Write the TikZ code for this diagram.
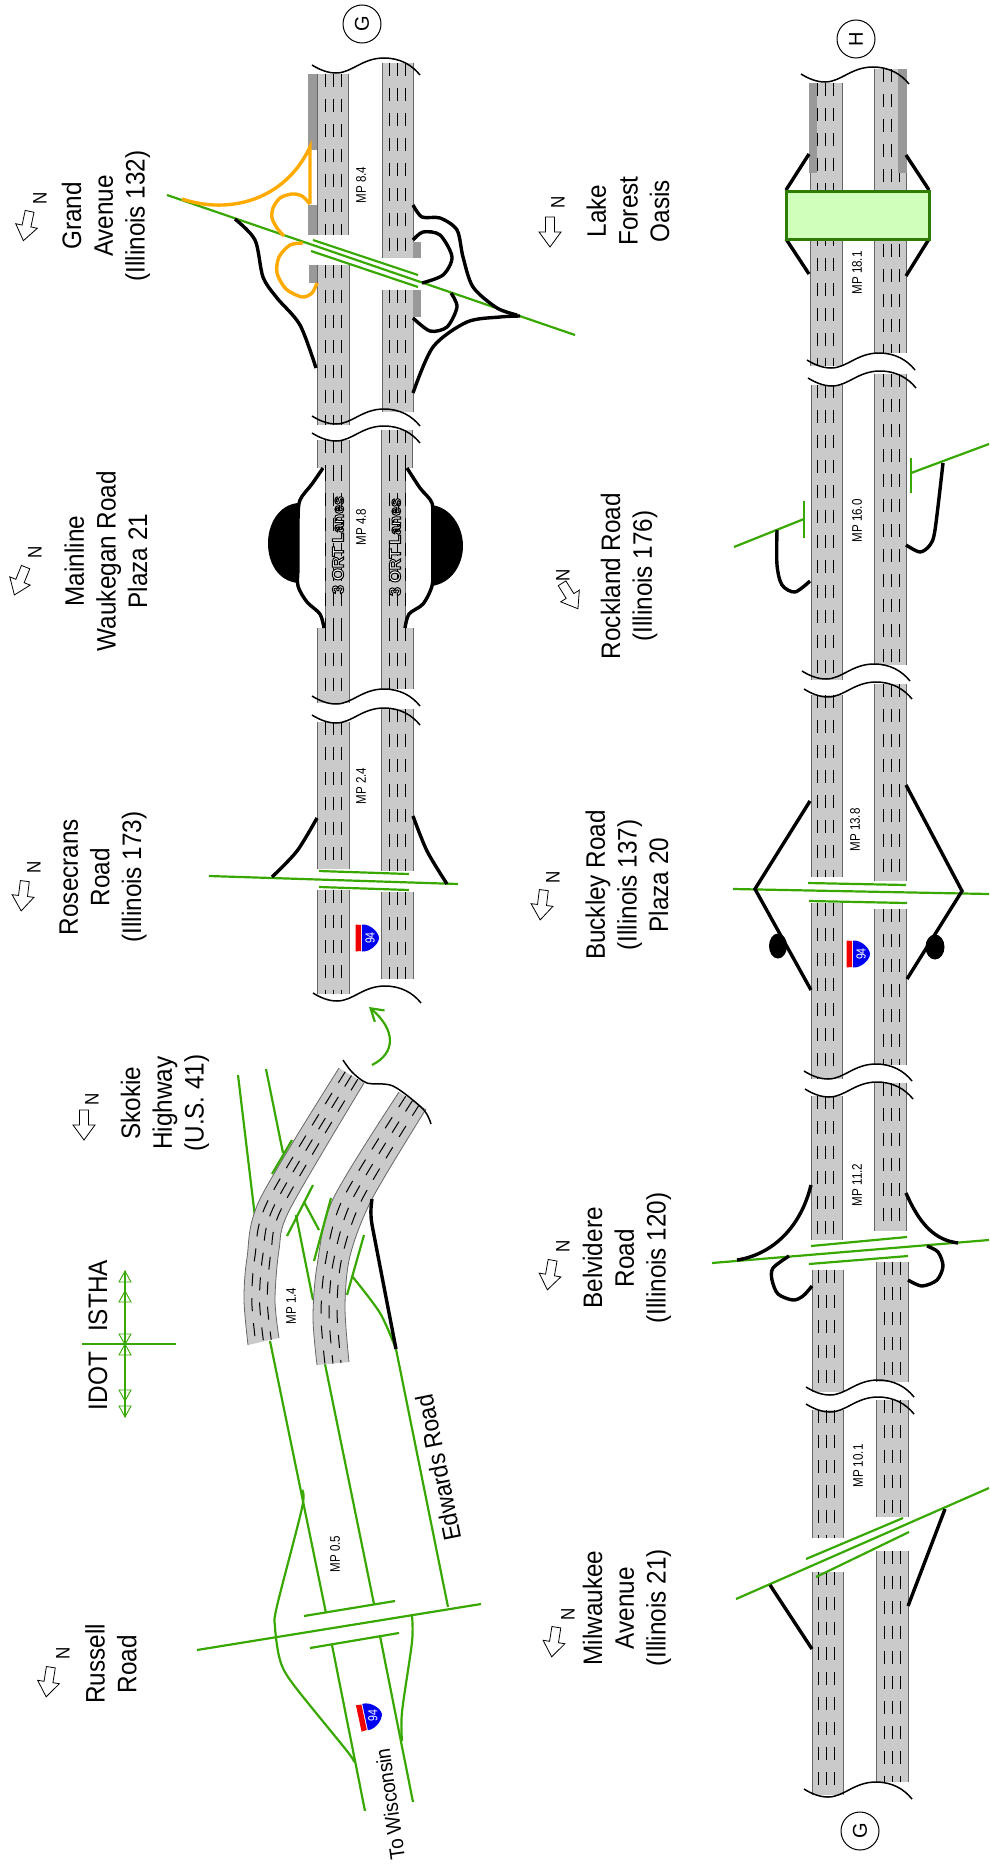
\documentclass[tikz,border=0pt]{standalone}
\usepackage{fontspec}
\setmainfont{Liberation Sans}
\usepackage{xcolor}
\usepackage{tikz}
\usetikzlibrary{arrows.meta,calc}
\definecolor{RoadGrey}{HTML}{CACACA}
\definecolor{ShoulderGrey}{HTML}{999999}
\definecolor{EdgeGrey}{HTML}{666666}
\definecolor{RoadGreen}{HTML}{38A800}
\definecolor{RampOrange}{HTML}{FFAA00}
\definecolor{OasisFill}{HTML}{D0FFBC}
\definecolor{OasisEdge}{HTML}{2E7D00}
\definecolor{ShieldBlue}{HTML}{0000F0}
\definecolor{ShieldRed}{HTML}{F00000}
\tikzset{
  roadedge/.style={draw=EdgeGrey, line width=0.8pt},
  lanemark/.style={draw=black, line width=1pt, dash pattern=on 13pt off 12pt},
  breakline/.style={draw=black, line width=1.5pt},
  rampline/.style={draw=black, line width=3.4pt},
  orangeramp/.style={draw=RampOrange, line width=3.4pt},
  greenroad/.style={draw=RoadGreen, line width=2.2pt},
  placelabel/.style={rotate=90, align=center, yscale=1.1, font=\fontsize{24.3}{28.8}\selectfont},
  northtext/.style={rotate=90, yscale=1.15, font=\fontsize{17}{19}\selectfont},
  mptext/.style={rotate=90, yscale=1.2, font=\fontsize{11.6}{13}\selectfont},
  letterring/.style={circle, draw=black, line width=1pt, minimum size=38pt, inner sep=0pt, rotate=90, font=\fontsize{20}{22}\selectfont},
  tipmark/.style={draw=RoadGreen, line width=0.9pt}
}
\newcommand{\roadseg}[5]{%
  \fill[RoadGrey] (#1,#3) rectangle (#2,#4);
  \draw[roadedge] (#1,#3) -- (#1,#4) (#2,#3) -- (#2,#4);
  \foreach \lane in {0,8,16} \draw[lanemark] ({#5+\lane},#3) -- ({#5+\lane},#4);
}
\newcommand{\shoulder}[4]{\fill[ShoulderGrey] (#1,#3) rectangle (#2,#4);}
\newcommand{\roadbreak}[2]{%
  \draw[breakline,shift={(#1,#2)}] (0,0) .. controls (8,5) and (16,8) .. (24,8)
    .. controls (40,8) and (50,-7) .. (72,-7) .. controls (88,-7) and (100,0) .. (108,10);
}
\newcommand{\northmark}[6]{%
  \draw[draw=black, fill=white, line width=0.8pt, shift={(#2,#3)}, rotate=#4]
    (-4.5,-15) -- (4.5,-15) -- (4.5,0) -- (11,0) -- (0,15) -- (-11,0) -- (-4.5,0) -- cycle;
  \node[northtext] (north#1) at (#5,#6) {N};
}
\newcommand{\shieldmark}[4]{%
  \begin{scope}[shift={(#2,#3)}, rotate=#4]
    \fill[ShieldRed] (-11.5,-13.5) -- (-6,-13) -- (-6,13) -- (-11.5,13.5) -- cycle;
    \fill[ShieldBlue] (-5,-13.5) .. controls (4,-14) and (12,-5) .. (12,0)
      .. controls (12,5) and (4,14) .. (-5,13.5) -- cycle;
    \node[rotate=90, yscale=1.25, text=white, font=\fontsize{10.5}{11}\selectfont] (shield#1) at (3,0) {94};
  \end{scope}
}
\newcommand{\ortlabel}[3]{%
  \node[rotate=90, text=white, font=\fontsize{16}{17}\selectfont\bfseries] (ort#1) at (#2,#3)
    {\special{pdf:code q 2 Tr 1 w 0 0 0 RG}3 ORT Lanes\special{pdf:code Q}};
}
\begin{document}
\begin{tikzpicture}[x=1pt,y=-1pt]
\useasboundingbox (0,0) rectangle (989,1868);

% upper road, west side
\roadseg{317}{348}{74}{235}{325}
\shoulder{308}{317}{74}{150}
\shoulder{308}{317}{205}{235}
\roadseg{317}{349}{265}{425}{325}
\shoulder{309}{317}{265}{283}
\roadseg{317}{349}{440}{468}{325}
\roadseg{325}{349}{468}{628}{325}
\roadseg{317}{349}{628}{703}{325}
\roadseg{317}{349}{722}{869}{325}
\roadseg{317}{349}{890}{994}{325}
% upper road, east side
\roadseg{382}{413}{63}{258}{389}
\shoulder{413}{421}{242}{258}
\roadseg{382}{413}{290}{412}{389}
\shoulder{413}{421}{290}{317}
\roadseg{381}{412}{430}{468}{389}
\roadseg{381}{405}{468}{628}{389}
\roadseg{381}{413}{628}{689}{389}
\roadseg{381}{413}{709}{871}{389}
\roadseg{381}{413}{892}{979}{389}

\roadbreak{312}{65}
\roadbreak{312}{416}
\roadbreak{312}{433}
\roadbreak{312}{696}
\roadbreak{312}{715}
\roadbreak{313}{993}

% lower road, west side
\roadseg{810}{842}{83}{366}{817}
\shoulder{809}{817}{83}{173}
\roadseg{811}{842}{385}{680}{817}
\roadseg{811}{842}{695}{877}{817}
\roadseg{811}{842}{903}{1079}{817}
\roadseg{811}{842}{1096}{1240}{817}
\roadseg{812}{843}{1270}{1392}{818}
\roadseg{812}{843}{1410}{1538}{818}
\roadseg{812}{843}{1572}{1795}{818}
% lower road, east side
\roadseg{874}{906}{69}{353}{883}
\shoulder{898}{907}{69}{173}
\roadseg{874}{906}{374}{665}{883}
\roadseg{874}{906}{684}{881}{883}
\roadseg{874}{906}{909}{1065}{883}
\roadseg{874}{906}{1083}{1231}{883}
\roadseg{876}{908}{1262}{1382}{884}
\roadseg{876}{908}{1400}{1517}{884}
\roadseg{876}{908}{1551}{1782}{884}

\roadbreak{801}{74}
\roadbreak{807}{360}
\roadbreak{808}{378}
\roadbreak{802}{671}
\roadbreak{804}{689}
\roadbreak{804}{1071}
\roadbreak{805}{1089}
\roadbreak{806}{1387}
\roadbreak{806}{1404}
\roadbreak{804}{1789}

% curved part at Skokie Highway
\coordinate (wo1) at (339,1068); \coordinate (wi1) at (364,1083);
\coordinate (wo2) at (260,1199); \coordinate (wi2) at (290,1209);
\coordinate (wo3) at (247,1258); \coordinate (wi3) at (279,1250);
\coordinate (wo4) at (244,1300); \coordinate (wi4) at (275,1300);
\coordinate (wo5) at (248,1345); \coordinate (wi5) at (279,1338);
\coordinate (eo1) at (399,1092); \coordinate (ei1) at (426,1109);
\coordinate (eo2) at (333,1199); \coordinate (ei2) at (372,1199);
\coordinate (eo3) at (317,1266); \coordinate (ei3) at (350,1256);
\coordinate (eo4) at (313,1318); \coordinate (ei4) at (345,1307);
\coordinate (eo5) at (317,1365); \coordinate (ei5) at (349,1362);

% green roads under the curved part
\draw[greenroad] (238,1075) -- (255,1217);
\draw[greenroad] (266,1069) -- (283,1153);
\draw[greenroad] (296,1215) -- (313,1300);
\draw[greenroad] (304,1202) -- (319,1230);
\draw[greenroad] (270,1341) -- (326,1613);
\draw[greenroad] (325,1364) -- (374,1604);
\draw[greenroad] (332,1645) -- (365,1811);
\draw[greenroad] (380,1636) -- (413,1802);
\draw[greenroad] (396,1349) -- (448,1607);
\draw[greenroad] plot[smooth] coordinates {(352,1276) (380,1313) (396,1349)};

\fill[RoadGrey] plot[smooth] coordinates {(wo1) (wo2) (wo3) (wo4) (wo5)}
  -- plot[smooth] coordinates {(wi5) (wi4) (wi3) (wi2) (wi1)} -- cycle;
\fill[RoadGrey] plot[smooth] coordinates {(eo1) (eo2) (eo3) (eo4) (eo5)}
  -- plot[smooth] coordinates {(ei5) (ei4) (ei3) (ei2) (ei1)} -- cycle;
\draw[roadedge] plot[smooth] coordinates {(wo1) (wo2) (wo3) (wo4) (wo5)};
\draw[roadedge] plot[smooth] coordinates {(wi1) (wi2) (wi3) (wi4) (wi5)};
\draw[roadedge] plot[smooth] coordinates {(eo1) (eo2) (eo3) (eo4) (eo5)};
\draw[roadedge] plot[smooth] coordinates {(ei1) (ei2) (ei3) (ei4) (ei5)};
\foreach \f in {0.25,0.5,0.75} {
  \draw[lanemark] plot[smooth] coordinates {($(wo1)!\f!(wi1)$) ($(wo2)!\f!(wi2)$) ($(wo3)!\f!(wi3)$) ($(wo4)!\f!(wi4)$) ($(wo5)!\f!(wi5)$)};
  \draw[lanemark] plot[smooth] coordinates {($(eo1)!\f!(ei1)$) ($(eo2)!\f!(ei2)$) ($(eo3)!\f!(ei3)$) ($(eo4)!\f!(ei4)$) ($(eo5)!\f!(ei5)$)};
}
\draw[breakline] plot[smooth] coordinates {(343,1060) (352,1072) (367,1083) (393,1086) (423,1109) (431,1124)};
\draw[greenroad] (272,1174) -- (292,1140);
\draw[greenroad] (287,1236) -- (313,1185);
\draw[greenroad] (314,1261) -- (331,1198);
\draw[greenroad] (347,1295) -- (364,1235);
\draw[rampline] (372,1199) .. controls (370,1212) and (371,1220) .. (373,1230) -- (396,1349);
\draw[greenroad,-{Straight Barb[length=12pt,width=15pt]}] (372,1065) .. controls (396,1053) and (396,1030) .. (369,1007);

% Russell Road
\draw[greenroad] (197,1650) -- (481,1604);
\draw[greenroad] (304,1616) -- (395,1601);
\draw[greenroad] (310,1648) -- (399,1633);
\draw[greenroad] plot[smooth] coordinates {(302,1490) (302,1508) (277,1606) (275,1627) (280,1660) (293,1684) (347,1751) (354,1762)};
\draw[greenroad] plot[smooth] coordinates {(412,1616) (412,1642) (402,1712) (402,1741)};

% jurisdiction line
\draw[greenroad] (82,1344) -- (176,1344);
\draw[greenroad] (125,1271) -- (125,1417);
\foreach \apex/\base in {1271/1282,1291/1302,1344.5/1334,1344/1355,1401/1390,1417/1406}
  \draw[tipmark] (125,\apex) -- (119,\base) -- (131,\base) -- cycle;
\node[placelabel] (idotLabel) at (98,1381) {IDOT};
\node[placelabel] (isthaLabel) at (98,1296) {ISTHA};

% Rosecrans Road
\draw[greenroad] (209,876) -- (458,884);
\draw[greenroad] (319,871) -- (409,874);
\draw[greenroad] (319,887) -- (409,890);
\draw[rampline] plot[smooth] coordinates {(317,818) (297,851) (272,877)};
\draw[rampline] plot[smooth] coordinates {(413,816) (427,851) (447,884)};

% plaza 21
\draw[rampline] plot[smooth] coordinates {(323,468) (312,484) (300,500) (298,520) (298,566) (298,586) (307,602) (320,614) (324,628)};
\draw[rampline] plot[smooth] coordinates {(407,468) (420,488) (432,503) (433,525) (433,566) (432,586) (423,604) (409,614) (405,628)};
\fill[black] (298,503) .. controls (278,505) and (268,525) .. (268,543) .. controls (268,563) and (278,581) .. (298,583) -- cycle;
\fill[black] (431,505) .. controls (451,507) and (463,527) .. (463,546) .. controls (463,565) and (451,584) .. (431,586) -- cycle;
\ortlabel{West}{338}{545}
\ortlabel{East}{395}{547}

% Grand Avenue
\draw[greenroad] (167,195) -- (575,335);
\draw[greenroad] (313,240) -- (418,275);
\draw[greenroad] (311,251) -- (418,287);
\draw[orangeramp] (182,199) .. controls (230,215) and (285,200) .. (310,147) -- (310,204);
\draw[orangeramp] plot[smooth] coordinates {(310,204) (302,196) (292,194) (280,198) (273,208) (272,218) (277,228) (284,236)};
\draw[orangeramp] plot[smooth] coordinates {(303,243) (290,245) (279,257) (277,273) (286,289) (302,297) (312,293) (317,283)};
\draw[rampline] plot[smooth] coordinates {(235,219) (255,240) (263,277) (277,298) (300,325) (316,368)};
\draw[rampline] plot[smooth] coordinates {(413,205) (422,217) (440,218) (457,230) (463,257) (473,287) (497,308) (517,315)};
\draw[rampline] plot[smooth] coordinates {(520,316) (500,317) (467,322) (433,347) (413,393)};
\draw[rampline] plot[smooth] coordinates {(413,240) (423,232) (440,235) (452,257) (443,275) (422,283)};
\draw[rampline] plot[smooth] coordinates {(451,293) (457,307) (447,327) (430,331) (413,318)};

% Lake Forest Oasis
\draw[rampline] (786,190) -- (809,154);
\draw[rampline] (929,190) -- (906,155);
\draw[rampline] (786,239) -- (809,274);
\draw[rampline] (929,239) -- (906,276);
\node[draw=OasisEdge, fill=OasisFill, line width=3pt, minimum width=143pt, minimum height=48pt, inner sep=0pt] (oasisBox) at (857.5,215) {};

% Rockland Road
\draw[greenroad] (734,547) -- (804,519);
\draw[greenroad] (804,501) -- (804,538);
\draw[greenroad] (989,444) -- (911,473);
\draw[greenroad] (911,458) -- (911,493);
\draw[rampline] plot[smooth] coordinates {(777,530) (777,565) (782,585) (795,592) (810,581)};
\draw[rampline] plot[smooth] coordinates {(943,463) (935,530) (930,545) (920,552) (906,545)};

% Buckley Road
\draw[greenroad] (733,889) -- (989,894);
\draw[greenroad] (808,883) -- (906,885);
\draw[greenroad] (809,901) -- (907,903);
\draw[rampline] (810,801) -- (755,889) -- (811,990);
\draw[rampline] (906,785) -- (962,891) -- (907,979);
\fill[black] (778,946) ellipse [x radius=9, y radius=12.5];
\fill[black] (935,947) ellipse [x radius=9.5, y radius=12.5];

% Belvidere Road
\draw[greenroad] (712,1263) -- (989,1240);
\draw[greenroad] (811,1246) -- (907,1237);
\draw[greenroad] (809,1264) -- (908,1256);
\draw[rampline] (811,1185) .. controls (800,1230) and (770,1255) .. (737,1260);
\draw[rampline] (906,1193) .. controls (920,1225) and (935,1240) .. (958,1243);
\draw[rampline] plot[smooth] coordinates {(789,1256) (773,1268) (772,1280) (778,1294) (793,1300) (803,1296) (812,1286)};
\draw[rampline] plot[smooth] coordinates {(927,1246) (938,1252) (943,1266) (937,1280) (922,1286) (908,1280)};

% Milwaukee Avenue
\draw[greenroad] (736,1599) -- (989,1488);
\draw[greenroad] (806,1559) -- (903,1518);
\draw[greenroad] (816,1577) -- (909,1532);
\draw[rampline] (770,1585) -- (812,1649);
\draw[rampline] (945,1509) -- (908,1606);

% shields and mile posts
\shieldmark{Upper}{367}{938}{0}
\shieldmark{Lower}{858}{954}{0}
\shieldmark{Russell}{370}{1716}{12}
\node[mptext] (mp84) at (361,185) {MP 8.4};
\node[mptext] (mp48) at (361,527) {MP 4.8};
\node[mptext] (mp24) at (361,786) {MP 2.4};
\node[mptext] (mp14) at (291,1306) {MP 1.4};
\node[mptext] (mp05) at (335,1554) {MP 0.5};
\node[mptext] (mp181) at (857,273) {MP 18.1};
\node[mptext] (mp160) at (857,521) {MP 16.0};
\node[mptext] (mp138) at (855,830) {MP 13.8};
\node[mptext] (mp112) at (857,1185) {MP 11.2};
\node[mptext] (mp101) at (858,1466) {MP 10.1};

\node[letterring] (ringUpperG) at (362,24) {G};
\node[letterring] (ringH) at (856,39) {H};
\node[letterring] (ringLowerG) at (860,1831) {G};

% place names
\node[placelabel] (grandLabel) at (106,216) {Grand\\Avenue\\(Illinois 132)};
\node[placelabel] (plazaLabel) at (106,561) {Mainline\\Waukegan Road\\Plaza 21};
\node[placelabel] (rosecransLabel) at (103,877) {Rosecrans\\Road\\(Illinois 173)};
\node[placelabel] (skokieLabel) at (165,1103) {Skokie\\Highway\\(U.S. 41)};
\node[placelabel] (russellLabel) at (111,1664) {Russell\\Road};
\node[placelabel] (oasisLabel) at (628,211) {Lake\\Forest\\Oasis};
\node[placelabel] (rocklandLabel) at (629,576) {Rockland Road\\(Illinois 176)};
\node[placelabel] (buckleyLabel) at (627,885) {Buckley Road\\(Illinois 137)\\Plaza 20};
\node[placelabel] (belvidereLabel) at (627,1258) {Belvidere\\Road\\(Illinois 120)};
\node[placelabel] (milwaukeeLabel) at (627,1608) {Milwaukee\\Avenue\\(Illinois 21)};
\node[rotate=101.4, yscale=1.1, font=\fontsize{22.6}{24}\selectfont] (edwardsLabel) at (438,1468) {Edwards Road};
\node[rotate=98, yscale=1.1, font=\fontsize{19}{21}\selectfont] (wisconsinLabel) at (390,1804) {To Wisconsin};

\northmark{Grand}{26.5}{226}{-12}{40}{198}
\northmark{Plaza}{20}{581}{-22}{35}{552}
\northmark{Rosecrans}{23}{896}{-7}{34}{867}
\northmark{Skokie}{84}{1125}{0}{92}{1099}
\northmark{Russell}{48.5}{1682}{-9}{63}{1653}
\northmark{Oasis}{550}{232}{0}{558}{202}
\northmark{Rockland}{570}{596}{32}{563}{575}
\northmark{Buckley}{542}{905}{-7}{553}{877}
\northmark{Belvidere}{550}{1275}{-10}{563}{1246}
\northmark{Milwaukee}{554}{1642}{-9}{568}{1614}
\end{tikzpicture}
\end{document}
